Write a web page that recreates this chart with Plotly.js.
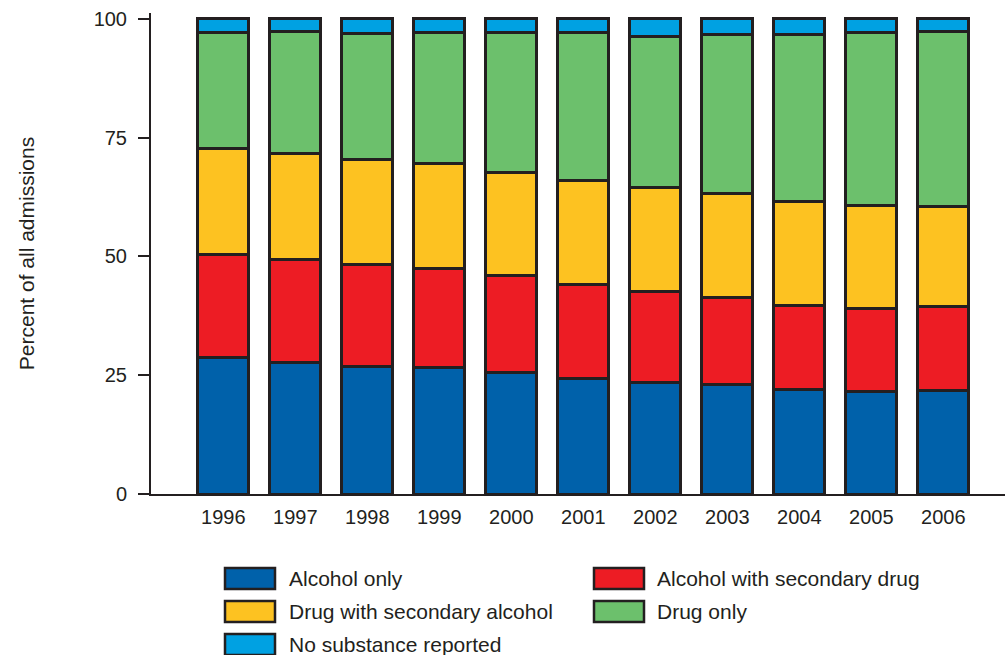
<!DOCTYPE html>
<html>
<head>
<meta charset="utf-8">
<script src="https://cdn.plot.ly/plotly-3.0.1.min.js"></script>
<style>html,body{margin:0;padding:0;background:#fff;}#chart{width:1005px;height:655px;}</style>
</head>
<body>
<div id="chart"></div>
<script>
const years = ['1996','1997','1998','1999','2000','2001','2002','2003','2004','2005','2006'];
const alcoholOnly          = [28.7, 27.7, 26.9, 26.6, 25.6, 24.2, 23.4, 23.0, 21.9, 21.5, 21.8];
const alcoholWithSecDrug   = [21.7, 21.7, 21.4, 20.9, 20.4, 19.8, 19.2, 18.4, 17.7, 17.6, 17.7];
const drugWithSecAlcohol   = [22.3, 22.3, 22.1, 22.1, 21.6, 21.9, 21.9, 21.8, 21.9, 21.5, 20.9];
const drugOnly             = [24.5, 25.6, 26.4, 27.4, 29.6, 31.1, 31.8, 33.5, 35.1, 36.6, 36.9];
const noSubstance          = [2.8, 2.7, 3.2, 3.0, 2.8, 3.0, 3.7, 3.3, 3.4, 2.8, 2.7];
const seriesNames = ['Alcohol only','Alcohol with secondary drug','Drug with secondary alcohol','Drug only','No substance reported'];
const yTicks = [0, 25, 50, 75, 100];

const seriesData = [alcoholOnly, alcoholWithSecDrug, drugWithSecAlcohol, drugOnly, noSubstance];
const colors = ['#0061AA','#ED1C24','#FDC221','#6CC06C','#00A1E2'];
const ink = '#231F20';
const font = '"Liberation Sans", Arial, sans-serif';

const W = 1005, H = 655;
const mL = 151, mR = 0, mT = 13, mB = 161;
const pw = W - mL - mR, ph = H - mT - mB;
const px = x => (x - mL) / pw;
const py = y => (H - mB - y) / ph;

const traces = seriesData.map((vals, i) => ({
  type: 'bar',
  name: seriesNames[i],
  x: years,
  y: vals,
  marker: {color: colors[i], line: {color: ink, width: 3}},
  showlegend: false,
  hoverinfo: 'x+y+name'
}));

// custom legend (large swatches)
const shapes = [];
const annotations = [];
const colX = [[225, 275, 287], [594, 644, 655]];
const rowTop = [568, 601, 634];
seriesNames.forEach((nm, i) => {
  const r = Math.floor(i / 2), c = i % 2;
  const top = rowTop[r], bot = top + 21;
  shapes.push({type: 'rect', xref: 'paper', yref: 'paper',
    x0: px(colX[c][0]), x1: px(colX[c][1]), y0: py(bot), y1: py(top),
    fillcolor: colors[i], line: {color: ink, width: 2.5}});
  annotations.push({xref: 'paper', yref: 'paper', x: px(colX[c][2]), y: py(top + 10.5),
    xanchor: 'left', yanchor: 'middle', showarrow: false, text: nm,
    font: {family: font, size: 21, color: ink}});
});

const layout = {
  width: W, height: H,
  margin: {l: mL, r: mR, t: mT, b: mB, pad: 0},
  paper_bgcolor: '#fff', plot_bgcolor: '#fff',
  barmode: 'stack',
  bargap: 0.29,
  font: {family: font, color: ink},
  xaxis: {
    type: 'category',
    range: [-1.004, 10.857],
    showline: true, linecolor: ink, linewidth: 2,
    ticks: '', showgrid: false, zeroline: false,
    tickfont: {family: font, size: 20, color: ink},
    ticklabelstandoff: 4,
    fixedrange: true
  },
  yaxis: {
    range: [0, 101.2],
    tickvals: yTicks,
    ticktext: yTicks.map(String),
    showline: true, linecolor: ink, linewidth: 2,
    ticks: 'outside', ticklen: 11, tickwidth: 2, tickcolor: ink,
    showgrid: false, zeroline: false,
    tickfont: {family: font, size: 20, color: ink},
    ticklabelstandoff: 7,
    title: {text: 'Percent of all admissions', font: {family: font, size: 21, color: ink}, standoff: 53},
    fixedrange: true
  },
  shapes: shapes,
  annotations: annotations
};

Plotly.newPlot('chart', traces, layout, {displayModeBar: false, staticPlot: true});
</script>
</body>
</html>
